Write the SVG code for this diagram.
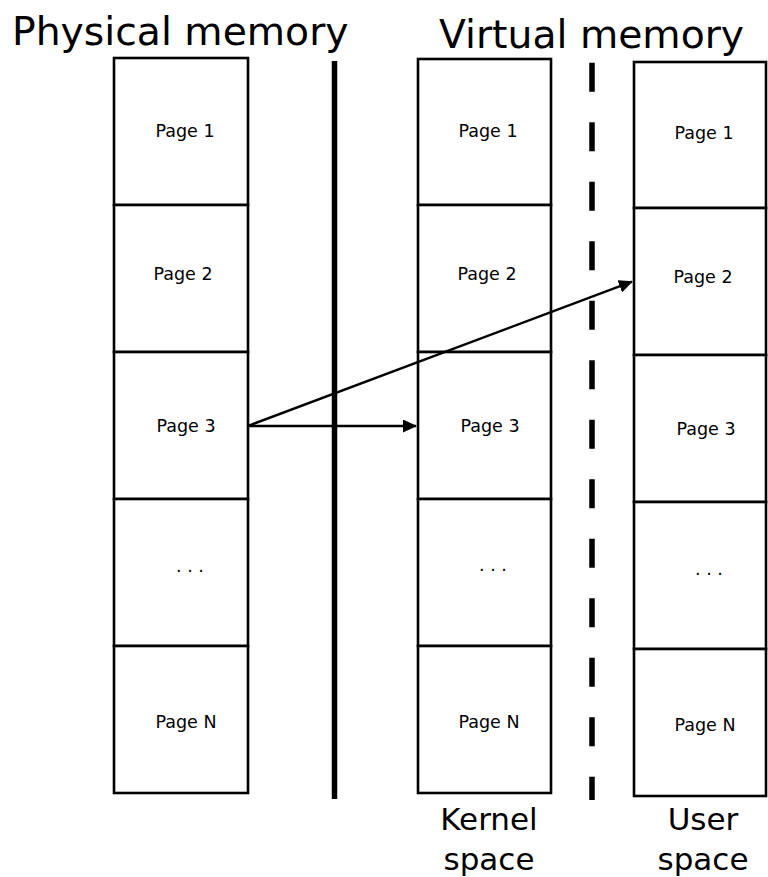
<svg xmlns="http://www.w3.org/2000/svg" width="768" height="877" viewBox="0 0 768 877">
  <style>
    .cell { fill: #ffffff; stroke: #000000; stroke-width: 2.6; }
    .pg { font-family: "DejaVu Sans", "Liberation Sans", sans-serif; font-size: 17.5px; fill: #000000; text-anchor: middle; }
    .title { font-family: "DejaVu Sans", "Liberation Sans", sans-serif; font-size: 39.3px; fill: #000000; }
    .cap { font-family: "DejaVu Sans", "Liberation Sans", sans-serif; font-size: 31px; fill: #000000; text-anchor: middle; }
    .link { stroke: #000000; stroke-width: 2.4; fill: none; marker-end: url(#head); }
  </style>
  <defs>
    <marker id="head" viewBox="0 0 14 13" refX="13" refY="6.5" markerWidth="14" markerHeight="13" markerUnits="userSpaceOnUse" orient="auto">
      <path d="M0,0 L14,6.5 L0,13 Z" fill="#000000"/>
    </marker>
  </defs>
  <rect width="768" height="877" fill="#ffffff"/>

  <!-- headings -->
  <text class="title" x="12" y="45">Physical memory</text>
  <text class="title" x="439" y="48">Virtual memory</text>
  <text class="cap" x="489" y="830">Kernel</text>
  <text class="cap" x="489" y="870">space</text>
  <text class="cap" x="703" y="830">User</text>
  <text class="cap" x="703" y="870">space</text>

  <!-- separators -->
  <line x1="334.5" y1="61" x2="334.5" y2="799" stroke="#000000" stroke-width="5.5"/>
  <line x1="592" y1="62.7" x2="592" y2="800" stroke="#000000" stroke-width="5.5" stroke-dasharray="29 30.5"/>

  <!-- physical memory pages -->
  <g id="physical">
    <g id="phys-1"><rect class="cell" x="114" y="58" width="134" height="147"/><text class="pg" x="185" y="137">Page 1</text></g>
    <g id="phys-2"><rect class="cell" x="114" y="205" width="134" height="147"/><text class="pg" x="183" y="280">Page 2</text></g>
    <g id="phys-3"><rect class="cell" x="114" y="352" width="134" height="147"/><text class="pg" x="186" y="432">Page 3</text></g>
    <g id="phys-dots"><rect class="cell" x="114" y="499" width="134" height="147"/><text class="pg" x="190" y="572">. . .</text></g>
    <g id="phys-n"><rect class="cell" x="114" y="646" width="134" height="147"/><text class="pg" x="186" y="728">Page N</text></g>
  </g>

  <!-- kernel space pages -->
  <g id="kernel">
    <g id="kern-1"><rect class="cell" x="418" y="59" width="133" height="146"/><text class="pg" x="488" y="137">Page 1</text></g>
    <g id="kern-2"><rect class="cell" x="418" y="205" width="133" height="147"/><text class="pg" x="487" y="280">Page 2</text></g>
    <g id="kern-3"><rect class="cell" x="418" y="352" width="133" height="147"/><text class="pg" x="490" y="432">Page 3</text></g>
    <g id="kern-dots"><rect class="cell" x="418" y="499" width="133" height="147"/><text class="pg" x="493" y="571">. . .</text></g>
    <g id="kern-n"><rect class="cell" x="418" y="646" width="133" height="147"/><text class="pg" x="489" y="728">Page N</text></g>
  </g>

  <!-- user space pages -->
  <g id="user">
    <g id="user-1"><rect class="cell" x="634" y="62" width="132" height="146"/><text class="pg" x="704" y="139">Page 1</text></g>
    <g id="user-2"><rect class="cell" x="634" y="208" width="132" height="147"/><text class="pg" x="703" y="283">Page 2</text></g>
    <g id="user-3"><rect class="cell" x="634" y="355" width="132" height="147"/><text class="pg" x="706" y="435">Page 3</text></g>
    <g id="user-dots"><rect class="cell" x="634" y="502" width="132" height="147"/><text class="pg" x="709" y="575">. . .</text></g>
    <g id="user-n"><rect class="cell" x="634" y="649" width="132" height="147"/><text class="pg" x="705" y="731">Page N</text></g>
  </g>

  <!-- mappings of physical page 3 -->
  <g id="connectors">
    <line class="link" x1="249" y1="426" x2="416" y2="426"/>
    <line class="link" x1="249" y1="425.5" x2="632" y2="281.7"/>
  </g>
</svg>
